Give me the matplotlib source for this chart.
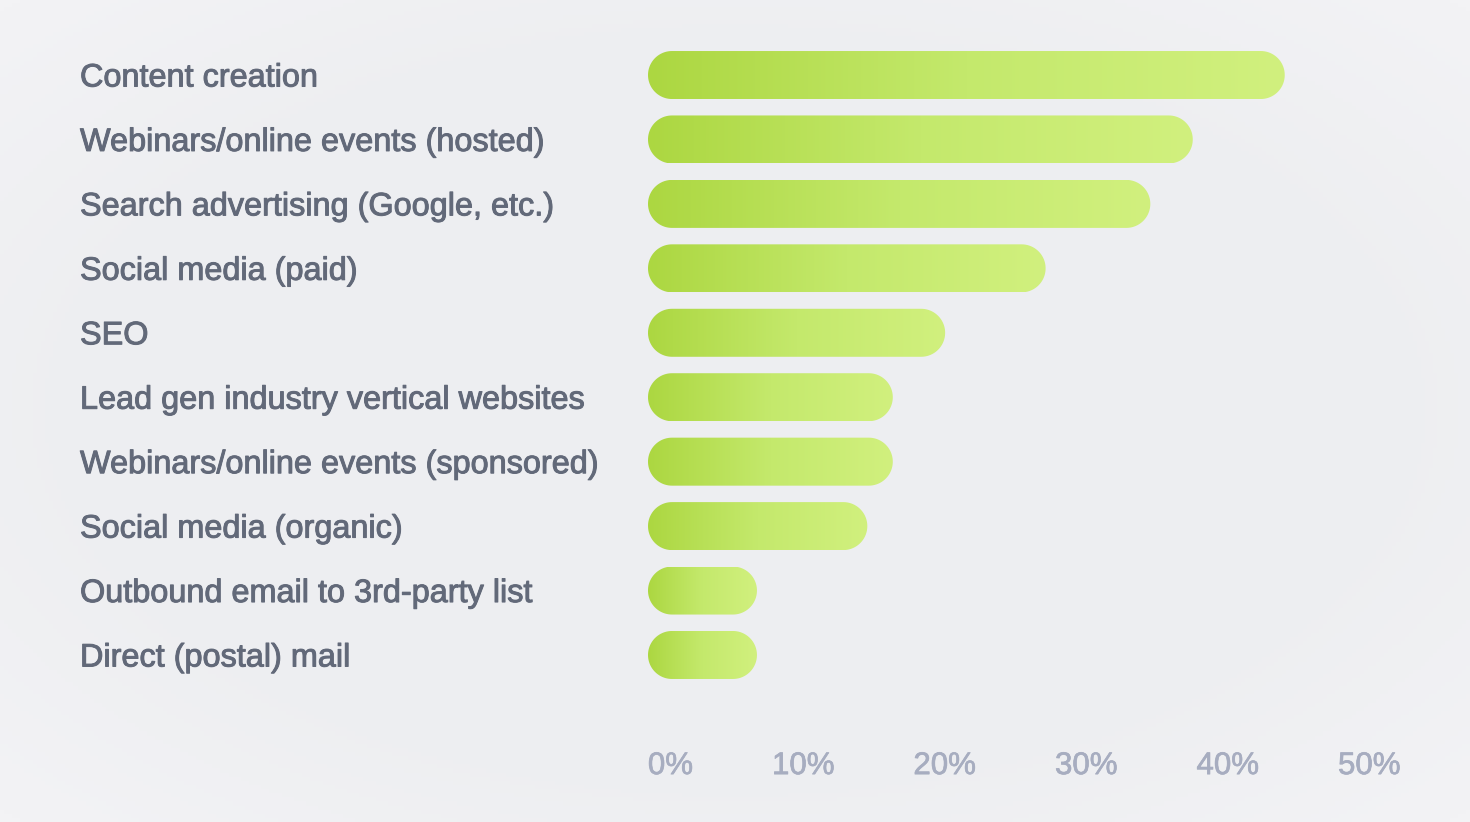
import numpy as np
import matplotlib.pyplot as plt
from matplotlib.patches import Polygon
from matplotlib.colors import LinearSegmentedColormap
from matplotlib.transforms import ScaledTranslation
import matplotlib.patheffects as pe

categories = [
    'Content creation',
    'Webinars/online events (hosted)',
    'Search advertising (Google, etc.)',
    'Social media (paid)',
    'SEO',
    'Lead gen industry vertical websites',
    'Webinars/online events (sponsored)',
    'Social media (organic)',
    'Outbound email to 3rd-party list',
    'Direct (postal) mail',
]
values = [45, 38.5, 35.5, 28.1, 21, 17.3, 17.3, 15.5, 7.7, 7.7]
ticks = [0, 10, 20, 30, 40, 50]
tick_labels = [f'{t}%' for t in ticks]

W, H, DPI = 1470, 822, 100
fig = plt.figure(figsize=(W / DPI, H / DPI), dpi=DPI)
fig.patch.set_facecolor('#eeeef1')

# very soft lighter corners in the background
bg = fig.add_axes([0, 0, 1, 1], zorder=-10)
yy, xx = np.mgrid[-1:1:200j, -1:1:360j]
d = np.clip(np.sqrt(xx ** 2 + yy ** 2) - 0.85, 0, None) / 0.55
bg_cmap = LinearSegmentedColormap.from_list('bg', ['#edeef1', '#f3f3f5'])
bg.imshow(d, cmap=bg_cmap, aspect='auto', extent=[0, 1, 0, 1], vmin=0, vmax=1)
bg.axis('off')

left, right = 648, 1355.5
top, bottom = 42.8, 687.2
ax = fig.add_axes([left / W, 1 - bottom / H, (right - left) / W, (bottom - top) / H])
ax.set_facecolor('none')
for s in ax.spines.values():
    s.set_visible(False)

grad = LinearSegmentedColormap.from_list('g', ['#acd741', '#c4e96c', '#d1f07e'])
px_x = (right - left) / 50
px_y = (bottom - top) / len(categories)
bar_h = 48 / px_y
rx = 24 / px_x
ry = bar_h / 2
g = np.linspace(0, 1, 256).reshape(1, -1)
t = np.linspace(-np.pi / 2, np.pi / 2, 40)

for i, v in enumerate(values):
    # pill outline: right cap then left cap
    xs = np.concatenate([v - rx + rx * np.cos(t), rx - rx * np.cos(t[::-1])])
    ys = np.concatenate([i + ry * np.sin(t), i + ry * np.sin(t[::-1])])
    patch = Polygon(np.column_stack([xs, ys]), closed=True,
                    facecolor='none', edgecolor='none')
    ax.add_patch(patch)
    im = ax.imshow(g, cmap=grad, aspect='auto',
                   extent=[0, v, i + bar_h / 2, i - bar_h / 2],
                   interpolation='bilinear')
    im.set_clip_path(patch)

ax.set_xlim(0, 50)
ax.set_ylim(len(categories) - 0.5, -0.5)

label_color = '#626979'
ax.set_yticks(range(len(categories)))
ax.set_yticklabels(categories, fontsize=23.35, color=label_color,
                   family='Liberation Sans', ha='left')
ax.tick_params(axis='y', length=0, pad=(left - 80) * 72 / DPI)
for lab in ax.get_yticklabels():
    lab.set_path_effects([pe.withStroke(linewidth=0.7, foreground=label_color)])

tick_color = '#a7adc0'
ax.set_xticks(ticks)
ax.set_xticklabels(tick_labels, fontsize=22.5, color=tick_color,
                   family='Liberation Sans', ha='right')
ax.tick_params(axis='x', length=0, pad=46)
offset = ScaledTranslation(45 / DPI, 0, fig.dpi_scale_trans)
for lab in ax.get_xticklabels():
    lab.set_transform(lab.get_transform() + offset)
    lab.set_path_effects([pe.withStroke(linewidth=0.5, foreground=tick_color)])

fig.savefig('out.png', dpi=DPI, facecolor=fig.get_facecolor())
